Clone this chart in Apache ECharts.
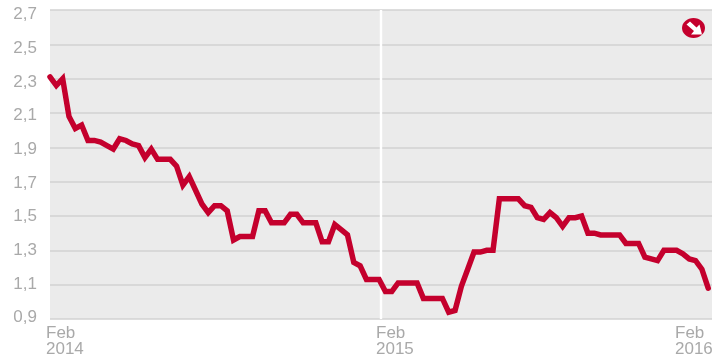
<!DOCTYPE html>
<html><head><meta charset="utf-8">
<style>html,body{margin:0;padding:0;background:#fff}#c{width:728px;height:358px}</style>
<script src="https://cdn.jsdelivr.net/npm/echarts@6/dist/echarts.min.js"></script>
</head><body><div id="c"></div>
<script>
const values = [2.31,2.26,2.30,2.08,2.01,2.03,1.94,1.94,1.93,1.91,1.89,1.95,1.94,1.92,1.91,1.84,1.89,1.83,1.83,1.83,1.79,1.68,1.73,1.65,1.57,1.52,1.56,1.56,1.53,1.36,1.38,1.38,1.38,1.53,1.53,1.46,1.46,1.46,1.51,1.51,1.46,1.46,1.46,1.35,1.35,1.45,1.42,1.39,1.23,1.21,1.13,1.13,1.13,1.06,1.06,1.11,1.11,1.11,1.11,1.02,1.02,1.02,1.02,0.94,0.95,1.09,1.19,1.29,1.29,1.30,1.30,1.60,1.60,1.60,1.60,1.56,1.55,1.49,1.48,1.52,1.49,1.44,1.49,1.49,1.50,1.40,1.40,1.39,1.39,1.39,1.39,1.34,1.34,1.34,1.26,1.25,1.24,1.30,1.30,1.30,1.28,1.25,1.24,1.19,1.08];
const yTicks = [0.9,1.1,1.3,1.5,1.7,1.9,2.1,2.3,2.5,2.7];
const xLabels = ['Feb\n2014','Feb\n2015','Feb\n2016'];
const yearMarkWeek = 52.3;
const grey='#a9a9a9', red='#c4002d';
const labelStops=[0,330,629];
const chart = echarts.init(document.getElementById('c'),null,{renderer:'canvas'});
chart.setOption({
  animation:false,
  backgroundColor:'#fff',
  grid:[
    {left:50,top:10,width:662,height:309,show:true,backgroundColor:'#ebebeb',borderWidth:0},
    {left:46,top:14.5,width:667,height:303,show:false}
  ],
  xAxis:[
    {gridIndex:0,type:'value',min:0,max:104.6,z:1,
     axisLine:{show:false},axisLabel:{show:false},
     axisTick:{show:false,customValues:[yearMarkWeek]},
     splitLine:{show:true,lineStyle:{color:'#fff',width:2.4}}},
    {gridIndex:1,type:'value',min:0,max:667,
     axisLine:{show:false},axisTick:{show:false},splitLine:{show:false},
     axisLabel:{show:true,customValues:labelStops,align:'left',verticalAlign:'top',margin:7.5,
       color:grey,fontFamily:'Liberation Sans',fontSize:17,lineHeight:16,
       showMinLabel:true,showMaxLabel:true,
       formatter:(v)=>xLabels[labelStops.indexOf(v)]}}
  ],
  yAxis:[
    {gridIndex:0,type:'value',min:0.9,max:2.7,
     axisLine:{show:false},axisLabel:{show:false},axisTick:{show:false,customValues:yTicks},
     splitLine:{show:true,lineStyle:{color:'#d2d2d2',width:1.6}}},
    {gridIndex:1,type:'value',min:0.9,max:2.7,
     axisLine:{show:false},axisTick:{show:false},splitLine:{show:false},
     axisLabel:{customValues:yTicks,margin:9,color:grey,fontFamily:'Liberation Sans',fontSize:17,
       showMinLabel:true,showMaxLabel:true,
       formatter:v=>v.toFixed(1).replace('.',',')}}
  ],
  series:[{type:'line',xAxisIndex:0,yAxisIndex:0,z:5,
    data:values.map((v,i)=>[i,v]),showSymbol:false,symbol:'none',
    lineStyle:{color:red,width:5.5,join:'miter',cap:'round'}}],
  graphic:[
    {type:'ellipse',shape:{cx:693.5,cy:28,rx:11.5,ry:10},style:{fill:red},z:10},
    {type:'polygon',shape:{points:[[686.5,24.5],[690,21.5],[696.5,27.5],[699.5,24.5],[702,34.5],[691,34.5],[694,31]]},style:{fill:'#fff'},z:11}
  ]
});
</script></body></html>
